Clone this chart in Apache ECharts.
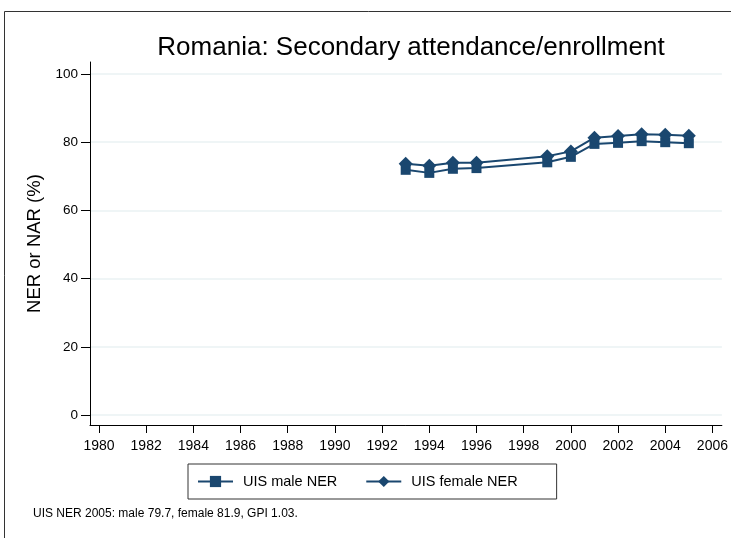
<!DOCTYPE html>
<html>
<head>
<meta charset="utf-8">
<title>Romania: Secondary attendance/enrollment</title>
<script src="https://cdn.jsdelivr.net/npm/echarts@6/dist/echarts.min.js"></script>
<style>
	html, body { margin: 0; padding: 0; background: #fff; }
	#main { width: 731px; height: 538px; }
</style>
</head>
<body>
<div id="main"></div>
<script>
// data
var years = [1993, 1994, 1995, 1996, 1999, 2000, 2001, 2002, 2003, 2004, 2005];
var maleNER = [71.9, 71.0, 72.2, 72.4, 74.1, 75.7, 79.5, 79.8, 80.3, 80.0, 79.7];
var femaleNER = [73.7, 73.1, 74.0, 74.0, 75.9, 77.3, 81.3, 81.8, 82.3, 82.2, 81.9];
var yTicks = [0, 20, 40, 60, 80, 100];
var xTicks = [1980, 1982, 1984, 1986, 1988, 1990, 1992, 1994, 1996, 1998, 2000, 2002, 2004, 2006];

var navy = '#1a476f';
var font = 'Liberation Sans, Arial, sans-serif';

function pairs(xs, ys) {
	var out = [];
	for (var i = 0; i < xs.length; i++) {
		out.push([xs[i], ys[i]]);
	}
	return out;
}

var myChart = echarts.init(document.getElementById('main'));

var option = {
	backgroundColor: '#fff',
	animation: false,
	title: {
		text: 'Romania: Secondary attendance/enrollment',
		left: 406,
		textAlign: 'center',
		top: 30,
		textStyle: { fontFamily: font, fontSize: 26, fontWeight: 'normal', color: '#000' }
	},
	grid: {
		left: 90,
		right: 9,
		top: 62,
		bottom: 113,
		containLabel: false
	},
	xAxis: {
		type: 'value',
		min: 1979.62,
		max: 2006.4,
		axisLine: { show: true, onZero: false, lineStyle: { color: '#000', width: 1 } },
		axisTick: { show: true, length: 8, customValues: xTicks, lineStyle: { color: '#000' } },
		axisLabel: {
			customValues: xTicks,
			formatter: function (v) { return String(v); },
			fontFamily: font, fontSize: 14, color: '#000', margin: 14
		},
		splitLine: { show: false }
	},
	yAxis: {
		type: 'value',
		min: -2.9,
		max: 103.5,
		name: 'NER or NAR (%)',
		nameLocation: 'middle',
		nameGap: 44,
		nameTextStyle: { fontFamily: font, fontSize: 18.5, color: '#000' },
		axisLine: { show: true, onZero: false, lineStyle: { color: '#000', width: 1 } },
		axisTick: { show: true, length: 9, customValues: yTicks, lineStyle: { color: '#000' } },
		axisLabel: {
			customValues: yTicks,
			fontFamily: font, fontSize: 13.5, color: '#000', margin: 12
		},
		splitLine: { show: true, lineStyle: { color: '#eaf2f3', width: 1.5 } }
	},
	legend: {
		left: 188,
		top: 464,
		padding: [10, 39, 10, 9],
		borderColor: '#333',
		borderWidth: 1,
		itemWidth: 35,
		itemHeight: 14,
		itemGap: 28,
		textStyle: { fontFamily: font, fontSize: 14.5, color: '#000', padding: [0, 0, 0, 5] },
		data: ['UIS male NER', 'UIS female NER']
	},
	graphic: [
		{
			type: 'rect',
			shape: { x: 4.5, y: 11.5, width: 740, height: 600 },
			style: { fill: 'none', stroke: '#333', lineWidth: 1 },
			silent: true
		},
		{
			type: 'text',
			left: 33,
			top: 508,
			style: {
				text: 'UIS NER 2005: male 79.7, female 81.9, GPI 1.03.',
				font: '12px ' + font,
				fill: '#000'
			}
		}
	],
	series: [
		{
			name: 'UIS male NER',
			type: 'line',
			symbol: 'rect',
			symbolSize: 10,
			lineStyle: { color: navy, width: 2 },
			itemStyle: { color: navy },
			data: pairs(years, maleNER)
		},
		{
			name: 'UIS female NER',
			type: 'line',
			symbol: 'diamond',
			symbolSize: 14,
			lineStyle: { color: navy, width: 2 },
			itemStyle: { color: navy },
			data: pairs(years, femaleNER)
		}
	]
};

myChart.setOption(option);
</script>
</body>
</html>
